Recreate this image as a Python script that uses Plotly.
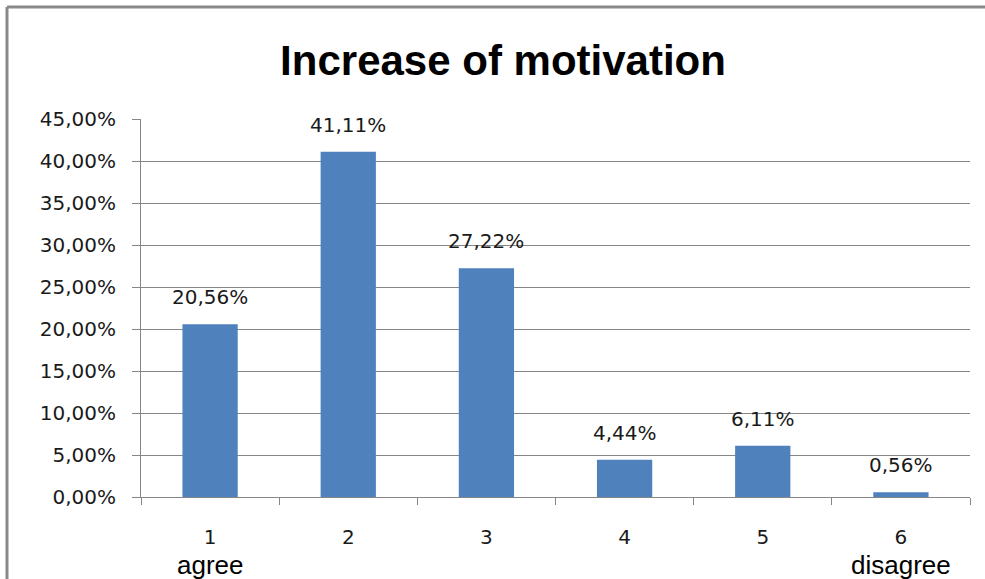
import plotly.graph_objects as go

categories = ["1", "2", "3", "4", "5", "6"]
values = [20.56, 41.11, 27.22, 4.44, 6.11, 0.56]
tick_vals = [0, 5, 10, 15, 20, 25, 30, 35, 40, 45]
tick_text = ["0,00%", "5,00%", "10,00%", "15,00%", "20,00%", "25,00%", "30,00%", "35,00%", "40,00%", "45,00%"]
end_labels = {"1": "agree", "6": "disagree"}
title_text = "Increase of motivation"

def pct(v):
    return f"{v:.2f}".replace(".", ",") + "%"

W, H = 985, 579
L, R, T, B = 141, 15, 119, 82
pw, ph = W - L - R, H - T - B

fig = go.Figure()
fig.add_trace(go.Bar(x=categories, y=values, marker=dict(color="#4f81bd", line=dict(width=0)),
                     hoverinfo="skip"))

label_font = dict(family="DejaVu Sans", size=20, color="#1a1a1a")
for i, v in enumerate(values):
    fig.add_annotation(x=i, y=v, xref="x", yref="y", text=pct(v), showarrow=False,
                       yanchor="bottom", yshift=13, font=label_font)

for c, t in end_labels.items():
    fig.add_annotation(x=categories.index(c), y=-(565 - (H - B)) / ph, xref="x", yref="paper", text=t,
                       showarrow=False, yanchor="middle",
                       font=dict(family="Liberation Sans", size=26, color="#000000"))

# outer frame (top and left edges visible)
fx0 = (7 - L) / pw
fy1 = (H - B - 7) / ph
fig.add_shape(type="line", xref="paper", yref="paper", x0=fx0, x1=(W - L) / pw, y0=fy1, y1=fy1,
              line=dict(color="#8a8a8a", width=3))
fig.add_shape(type="line", xref="paper", yref="paper", x0=fx0, x1=fx0, y0=fy1, y1=-B / ph,
              line=dict(color="#8a8a8a", width=3))

fig.update_layout(
    width=W, height=H,
    margin=dict(l=L, r=R, t=T, b=B),
    paper_bgcolor="white", plot_bgcolor="white",
    bargap=0.6,
    showlegend=False,
    title=dict(text=title_text, x=503 / W, xanchor="center", y=1 - 60 / H, yanchor="middle",
               font=dict(family="Liberation Sans", size=42, color="#000000", weight="bold")),
    xaxis=dict(type="category", range=[-0.5, 5.5], showgrid=False, showline=True, linecolor="#868686", linewidth=1,
               ticks="outside", tickson="boundaries", ticklen=7, tickcolor="#868686",
               tickfont=dict(family="DejaVu Sans", size=20, color="#1a1a1a"),
               ticklabelstandoff=22),
    yaxis=dict(range=[0, 45], tickvals=tick_vals, ticktext=tick_text, showgrid=True,
               gridcolor="#868686", gridwidth=1, showline=True, linecolor="#868686", linewidth=1,
               ticks="outside", ticklen=8, tickcolor="#868686", zeroline=False,
               tickfont=dict(family="DejaVu Sans", size=20, color="#1a1a1a"),
               ticklabelstandoff=12),
)

fig.write_html("out.html", config={"displayModeBar": False})
